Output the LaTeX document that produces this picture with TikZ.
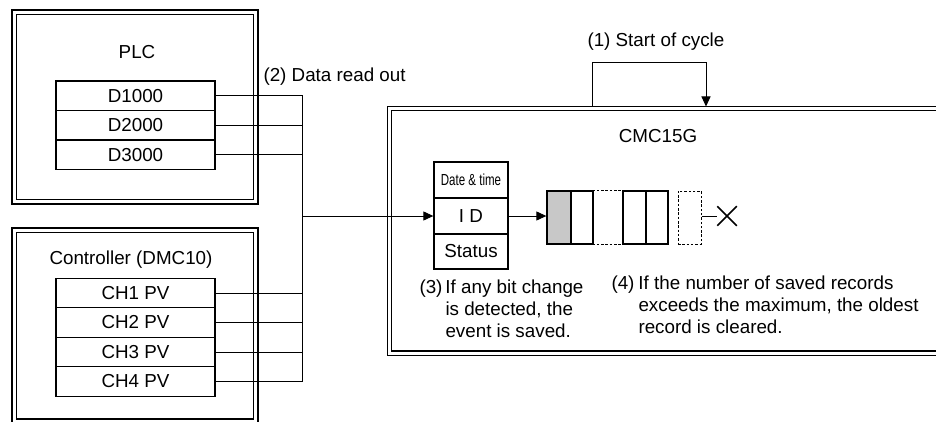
\documentclass[tikz,border=0pt]{standalone}
\usepackage{fontspec}
\setmainfont{Liberation Sans}
\usepackage{graphicx}
\usetikzlibrary{arrows.meta,shapes.misc}
\definecolor{qgray}{RGB}{200,200,200}
\begin{document}
\begin{tikzpicture}[x=1pt,y=-1pt,line width=1pt,
  txt/.style={inner sep=0pt,font=\fontsize{18.8}{22}\selectfont},
  dbox/.style={draw,double,double distance=3.3pt,line width=1.2pt,inner sep=0pt},
  row/.style={draw,line width=1.3pt,minimum width=159pt,minimum height=29.5pt,inner sep=0pt,font=\fontsize{18.8}{22}\selectfont},
  rec/.style={draw,line width=1.3pt,minimum width=74pt,inner sep=0pt,font=\fontsize{18.8}{22}\selectfont},
  cellq/.style={draw,line width=1.3pt,minimum height=53pt,inner sep=0pt},
  arr/.style={-{Triangle[length=10pt,width=9pt]}},
  wire/.style={line width=1pt},
  dsh/.style={line width=1pt,dash pattern=on 2.5pt off 1.8pt}]
\useasboundingbox (0,0) rectangle (936,422);
\clip (0,0) rectangle (936,422);
% outer frames
\node[dbox,minimum width=241.5pt,minimum height=189.5pt] (plc) at (135,107) {};
\node[dbox,minimum width=241.5pt,minimum height=191pt] (ctl) at (135,325.75) {};
\node[dbox,minimum width=580pt,minimum height=244.75pt] (cmc) at (679.5,230.9) {};
% titles
\node[txt] (plcT) at (137,52) {PLC};
\node[txt] (ctlT) at (131,260) {Controller (DMC10)};
\node[txt] (cmcT) at (658,136) {CMC15G};
\node[txt,anchor=west] (t1) at (587,42) {(1) Start of cycle};
\node[txt,anchor=west] (t2) at (263,77) {(2) Data read out};
% PLC rows
\node[row] (d1) at (135.5,95.75) {D1000};
\node[row] (d2) at (135.5,125.25) {D2000};
\node[row] (d3) at (135.5,154.75) {D3000};
% controller rows
\node[row] (c1) at (135.5,293) {CH1 PV};
\node[row] (c2) at (135.5,322.5) {CH2 PV};
\node[row] (c3) at (135.5,352) {CH3 PV};
\node[row] (c4) at (135.5,381.5) {CH4 PV};
% bus
\coordinate (bt) at (302,95.75);
\coordinate (bb) at (302,381.5);
\draw[wire] (d1.east) -- (bt) -- (bb) -- (c4.east);
\draw[wire] (d2.east) -- (d2.east -| bt);
\draw[wire] (d3.east) -- (d3.east -| bt);
\draw[wire] (c1.east) -- (c1.east -| bt);
\draw[wire] (c2.east) -- (c2.east -| bt);
\draw[wire] (c3.east) -- (c3.east -| bt);
% record
\node[rec,minimum height=36pt] (r1) at (471,180) {\scalebox{0.72}[1]{\fontsize{16}{18}\selectfont Date \& time}};
\node[rec,minimum height=36pt] (r2) at (471,216) {I D};
\node[rec,minimum height=35pt] (r3) at (471,251.5) {Status};
\draw[wire,arr] (bt |- r2.west) -- (r2.west);
% queue
\node[cellq,fill=qgray,minimum width=24pt] (q1) at (559,217.5) {};
\node[cellq,minimum width=22pt] (q2) at (582,217.5) {};
\node[inner sep=0pt,minimum height=53pt,minimum width=30pt] (q3) at (608,217.5) {};
\node[cellq,minimum width=23pt] (q4) at (634.5,217.5) {};
\node[cellq,minimum width=22pt] (q5) at (657,217.5) {};
\draw[dsh] (q3.north west) -- (q3.north east);
\draw[dsh] (q3.south west) -- (q3.south east);
\node[dsh,draw,inner sep=0pt,minimum height=53pt,minimum width=23pt] (qd) at (689.5,217.5) {};
\node[cross out,draw,line width=1.5pt,minimum size=18pt,inner sep=0pt] (xx) at (727,216) {};
\draw[wire,arr] (r2.east) -- (r2.east -| q1.west);
\draw[wire] (qd.east |- xx.west) -- (xx.west);
% start of cycle
\coordinate (cs) at (592,106.5);
\coordinate (ce) at (706,106.5);
\draw[wire,arr] (cs) -- ++(0,-44) -| (ce);
% notes
\node[txt,anchor=base west] (t3) at (445,293.7) {\begin{tabular}[t]{@{}l@{}}\llap{(3)\hspace{3pt}}If any bit change\\ is detected, the\\ event is saved.\end{tabular}};
\node[txt,anchor=base west] (t4) at (638,289.7) {\begin{tabular}[t]{@{}l@{}}\llap{(4)\hspace{4pt}}If the number of saved records\\ exceeds the maximum, the oldest\\ record is cleared.\end{tabular}};
\end{tikzpicture}
\end{document}
